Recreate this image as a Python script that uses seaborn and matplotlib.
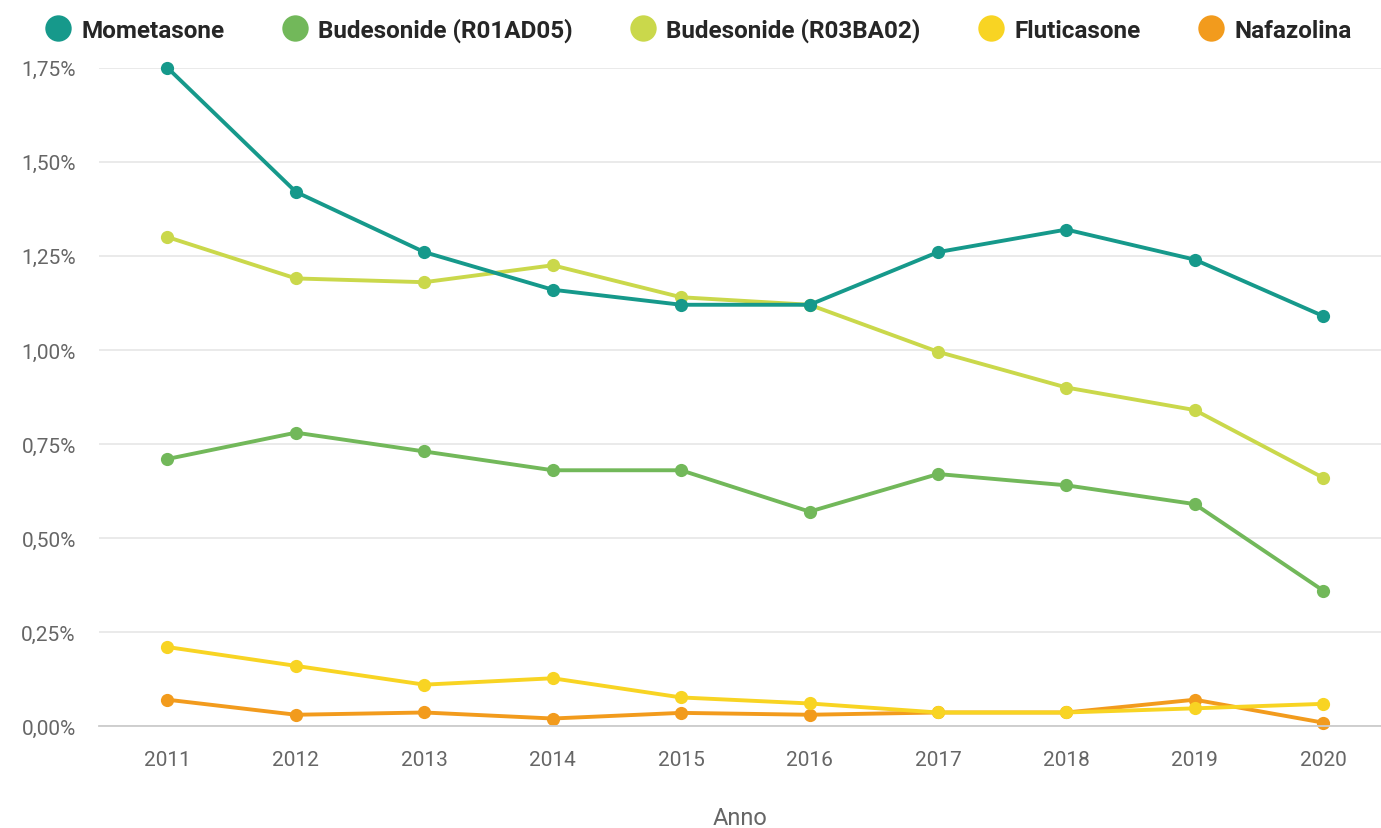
import matplotlib
matplotlib.use("Agg")
import matplotlib.pyplot as plt
import matplotlib.ticker as mticker
from matplotlib.lines import Line2D
import seaborn as sns
import pandas as pd

years = [2011, 2012, 2013, 2014, 2015, 2016, 2017, 2018, 2019, 2020]
mometasone = [1.75, 1.42, 1.26, 1.16, 1.12, 1.12, 1.26, 1.32, 1.24, 1.09]
budesonide_r01 = [0.71, 0.78, 0.73, 0.68, 0.68, 0.57, 0.67, 0.64, 0.59, 0.36]
budesonide_r03 = [1.30, 1.19, 1.18, 1.225, 1.14, 1.12, 0.995, 0.90, 0.84, 0.66]
fluticasone = [0.21, 0.16, 0.11, 0.127, 0.076, 0.06, 0.036, 0.036, 0.047, 0.059]
nafazolina = [0.07, 0.03, 0.036, 0.02, 0.035, 0.03, 0.036, 0.036, 0.07, 0.009]

series_names = ["Mometasone", "Budesonide (R01AD05)", "Budesonide (R03BA02)",
                "Fluticasone", "Nafazolina"]
series_values = [mometasone, budesonide_r01, budesonide_r03, fluticasone, nafazolina]
colors = ["#16998B", "#72B85A", "#CAD84B", "#F8D423", "#F29B1D"]

rows = []
for name, vals in zip(series_names, series_values):
    for y, v in zip(years, vals):
        rows.append({"Anno": y, "Farmaco": name, "Valore": v})
df = pd.DataFrame(rows)

sns.set_theme(style="white")
plt.rcParams["font.family"] = ["Roboto", "DejaVu Sans"]

fig = plt.figure(figsize=(13.81, 8.29), dpi=100)
ax = fig.add_axes([0.072, 0.123, 0.928, 0.794])

ax.yaxis.grid(True, color="#E6E6E6", linewidth=1.2)
ax.set_axisbelow(True)

# draw in reverse so Mometasone sits on top
for name, col in reversed(list(zip(series_names, colors))):
    sub = df[df["Farmaco"] == name]
    sns.lineplot(data=sub, x="Anno", y="Valore", ax=ax, color=col, linewidth=2.8,
                 marker="o", markersize=9.5, markeredgewidth=0, legend=False,
                 clip_on=False)

ax.set_xlim(2010.47, 2020.45)
ax.set_ylim(0, 1.75)
ax.set_xticks(years)
ax.set_xticks([y + 0.5 for y in years[:-1]] + [2010.5], minor=True)
ax.set_yticks([0, 0.25, 0.5, 0.75, 1.0, 1.25, 1.5, 1.75])
ax.yaxis.set_major_formatter(mticker.FuncFormatter(lambda v, p: f"{v:.2f}%".replace(".", ",")))

ax.tick_params(axis="x", which="major", length=0, pad=17, labelsize=15, labelcolor="#666666")
ax.tick_params(axis="x", which="minor", length=14, width=1, color="#DDDDDD")
ax.tick_params(axis="y", length=0, pad=17, labelsize=15, labelcolor="#666666")

for s in ["top", "right", "left"]:
    ax.spines[s].set_visible(False)
ax.spines["bottom"].set_color("#CCCCCC")
ax.spines["bottom"].set_linewidth(1.3)

ax.set_xlabel("Anno", fontsize=17, color="#666666", labelpad=27)
ax.set_ylabel("")

handles = [Line2D([0], [0], marker="o", linestyle="", markersize=19,
                  markerfacecolor=c, markeredgewidth=0) for c in colors]
leg = fig.legend(handles, series_names, loc="upper center", ncol=5,
                 bbox_to_anchor=(0.505, 1.004), frameon=False,
                 prop={"weight": "bold", "size": 17.5}, handletextpad=0.35,
                 columnspacing=2.3, handlelength=1.2)

fig.savefig("out.png", dpi=100)
